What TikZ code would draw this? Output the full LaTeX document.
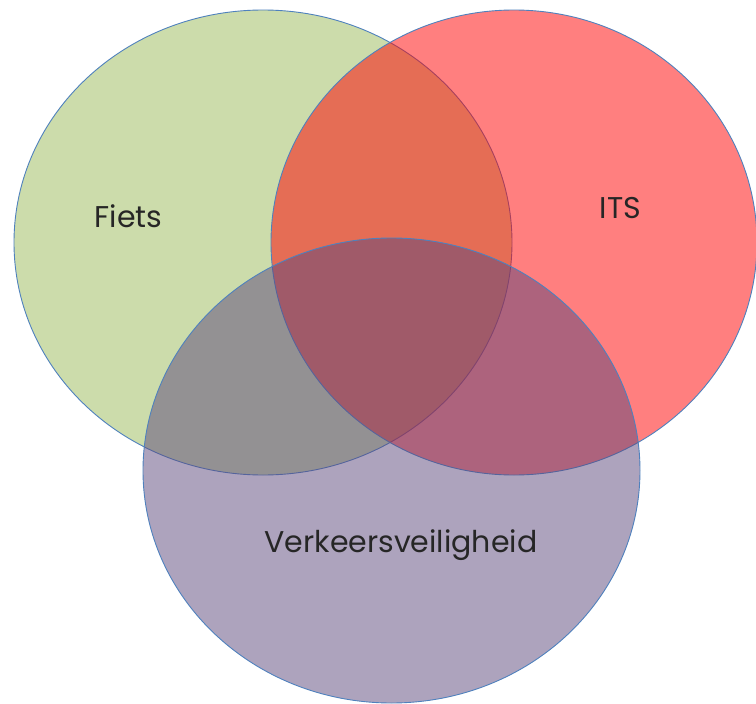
\documentclass[tikz,border=0pt]{standalone}
\usepackage{fontspec}
\setmainfont{Poppins}
\definecolor{cgreen}{RGB}{155,187,89}
\definecolor{cred}{RGB}{255,0,0}
\definecolor{cpurple}{RGB}{92,72,125}
\definecolor{cborder}{RGB}{79,129,189}
\begin{document}
\begin{tikzpicture}[x=1pt,y=-1pt,
  venn/.style={draw=cborder,line width=0.9pt,fill opacity=0.5},
  lbl/.style={font=\fontsize{30}{32}\selectfont,text=black!85,anchor=base,inner sep=0pt}]
\useasboundingbox (0,0) rectangle (756,704);
\fill[white] (0,0) rectangle (756,704);
\path[venn,fill=cgreen] (263,242.5) ellipse [x radius=249, y radius=232.5];
\path[venn,fill=cred] (514,242.5) ellipse [x radius=243, y radius=232.5];
\path[venn,fill=cpurple] (391.5,470.5) ellipse [x radius=248.5, y radius=232.5];
\node[lbl] (fiets) at (128.5,227) {Fiets};
\node[lbl] (its) at (620.5,218) {ITS};
\node[lbl] (vv) at (401,552) {Verkeersveiligheid};
\end{tikzpicture}
\end{document}
